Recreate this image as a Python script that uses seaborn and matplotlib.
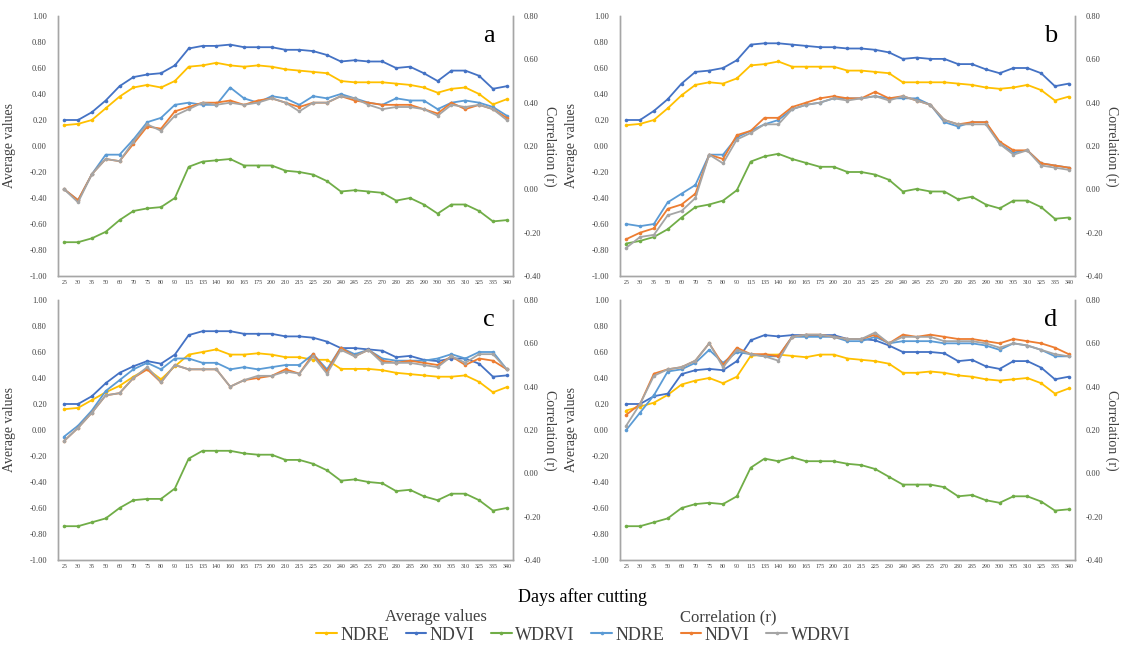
import matplotlib
matplotlib.use("Agg")
import matplotlib.pyplot as plt
import seaborn as sns
import pandas as pd
from matplotlib.lines import Line2D

# ---------------- data ----------------
days = [25, 30, 35, 50, 60, 70, 75, 80, 90, 115, 135, 140, 160, 165, 175, 200, 210,
        215, 225, 230, 240, 245, 255, 270, 280, 285, 290, 300, 305, 310, 325, 335, 340]

# Panel a  (average values: left axis; correlation r: right axis)
a_ndre_avg = [0.16, 0.17, 0.20, 0.29, 0.38, 0.45, 0.47, 0.45, 0.50, 0.61, 0.62, 0.64, 0.62, 0.61, 0.62, 0.61, 0.59,
              0.58, 0.57, 0.56, 0.50, 0.49, 0.49, 0.49, 0.48, 0.47, 0.45, 0.41, 0.44, 0.45, 0.40, 0.32, 0.36]
a_ndvi_avg = [0.20, 0.20, 0.26, 0.35, 0.46, 0.53, 0.55, 0.56, 0.62, 0.75, 0.77, 0.77, 0.78, 0.76, 0.76, 0.76, 0.74,
              0.74, 0.73, 0.70, 0.65, 0.66, 0.65, 0.65, 0.60, 0.61, 0.56, 0.50, 0.58, 0.58, 0.54, 0.44, 0.46]
a_wdrvi_avg = [-0.74, -0.74, -0.71, -0.66, -0.57, -0.50, -0.48, -0.47, -0.40, -0.16, -0.12, -0.11, -0.10, -0.15, -0.15, -0.15, -0.19,
               -0.20, -0.22, -0.27, -0.35, -0.34, -0.35, -0.36, -0.42, -0.40, -0.45, -0.52, -0.45, -0.45, -0.50, -0.58, -0.57]
a_ndre_r = [0.00, -0.05, 0.07, 0.16, 0.16, 0.23, 0.31, 0.33, 0.39, 0.40, 0.39, 0.39, 0.47, 0.42, 0.40, 0.43, 0.42,
            0.39, 0.43, 0.42, 0.44, 0.42, 0.40, 0.39, 0.42, 0.41, 0.41, 0.37, 0.40, 0.41, 0.40, 0.38, 0.34]
a_ndvi_r = [0.00, -0.05, 0.07, 0.14, 0.13, 0.21, 0.29, 0.28, 0.36, 0.38, 0.40, 0.40, 0.41, 0.39, 0.41, 0.42, 0.40,
            0.38, 0.40, 0.40, 0.43, 0.41, 0.40, 0.39, 0.39, 0.39, 0.37, 0.35, 0.40, 0.37, 0.39, 0.37, 0.33]
a_wdrvi_r = [0.00, -0.06, 0.07, 0.14, 0.13, 0.22, 0.30, 0.27, 0.34, 0.37, 0.40, 0.39, 0.40, 0.39, 0.40, 0.42, 0.40,
             0.36, 0.40, 0.40, 0.43, 0.42, 0.39, 0.37, 0.38, 0.38, 0.37, 0.34, 0.39, 0.38, 0.39, 0.37, 0.32]

# Panel b
b_ndre_avg = [0.16, 0.17, 0.20, 0.29, 0.39, 0.47, 0.49, 0.48, 0.52, 0.62, 0.63, 0.65, 0.61, 0.61, 0.61, 0.61, 0.58,
              0.58, 0.57, 0.56, 0.49, 0.49, 0.49, 0.49, 0.48, 0.47, 0.45, 0.44, 0.45, 0.47, 0.43, 0.35, 0.38]
b_ndvi_avg = [0.20, 0.20, 0.27, 0.36, 0.48, 0.57, 0.58, 0.60, 0.66, 0.78, 0.79, 0.79, 0.78, 0.77, 0.76, 0.76, 0.75,
              0.75, 0.74, 0.72, 0.67, 0.68, 0.67, 0.67, 0.63, 0.63, 0.59, 0.56, 0.60, 0.60, 0.56, 0.46, 0.48]
b_wdrvi_avg = [-0.75, -0.73, -0.70, -0.64, -0.55, -0.47, -0.45, -0.42, -0.34, -0.12, -0.08, -0.06, -0.10, -0.13, -0.16, -0.16, -0.20,
               -0.20, -0.22, -0.26, -0.35, -0.33, -0.35, -0.35, -0.41, -0.39, -0.45, -0.48, -0.42, -0.42, -0.47, -0.56, -0.55]
b_ndre_r = [-0.16, -0.17, -0.16, -0.06, -0.02, 0.02, 0.16, 0.16, 0.24, 0.27, 0.30, 0.32, 0.37, 0.39, 0.40, 0.42, 0.42,
            0.42, 0.43, 0.42, 0.42, 0.42, 0.39, 0.31, 0.29, 0.31, 0.31, 0.21, 0.17, 0.18, 0.12, 0.11, 0.10]
b_ndvi_r = [-0.23, -0.20, -0.18, -0.09, -0.07, -0.02, 0.16, 0.14, 0.25, 0.27, 0.33, 0.33, 0.38, 0.40, 0.42, 0.43, 0.42,
            0.42, 0.45, 0.42, 0.43, 0.41, 0.39, 0.32, 0.30, 0.31, 0.31, 0.22, 0.18, 0.18, 0.12, 0.11, 0.10]
b_wdrvi_r = [-0.27, -0.22, -0.21, -0.12, -0.10, -0.04, 0.16, 0.12, 0.23, 0.26, 0.30, 0.30, 0.37, 0.39, 0.40, 0.42, 0.41,
             0.42, 0.43, 0.41, 0.43, 0.41, 0.39, 0.32, 0.30, 0.30, 0.30, 0.21, 0.16, 0.18, 0.11, 0.10, 0.09]

# Panel c
c_ndre_avg = [0.16, 0.17, 0.23, 0.29, 0.34, 0.41, 0.47, 0.39, 0.49, 0.58, 0.60, 0.62, 0.58, 0.58, 0.59, 0.58, 0.56,
              0.56, 0.54, 0.54, 0.47, 0.47, 0.47, 0.46, 0.44, 0.43, 0.42, 0.41, 0.41, 0.42, 0.37, 0.29, 0.33]
c_ndvi_avg = [0.20, 0.20, 0.26, 0.36, 0.44, 0.49, 0.53, 0.51, 0.58, 0.73, 0.76, 0.76, 0.76, 0.74, 0.74, 0.74, 0.72,
              0.72, 0.71, 0.68, 0.63, 0.63, 0.62, 0.61, 0.56, 0.57, 0.54, 0.53, 0.55, 0.55, 0.51, 0.41, 0.42]
c_wdrvi_avg = [-0.74, -0.74, -0.71, -0.68, -0.60, -0.54, -0.53, -0.53, -0.45, -0.22, -0.16, -0.16, -0.16, -0.18, -0.19, -0.19, -0.23,
               -0.23, -0.26, -0.31, -0.39, -0.38, -0.40, -0.41, -0.47, -0.46, -0.51, -0.54, -0.49, -0.49, -0.54, -0.62, -0.60]
c_ndre_r = [0.17, 0.22, 0.29, 0.38, 0.43, 0.48, 0.51, 0.48, 0.53, 0.53, 0.51, 0.51, 0.48, 0.49, 0.48, 0.49, 0.50,
            0.50, 0.55, 0.48, 0.58, 0.55, 0.57, 0.53, 0.52, 0.52, 0.52, 0.53, 0.55, 0.53, 0.56, 0.56, 0.48]
c_ndvi_r = [0.15, 0.21, 0.28, 0.36, 0.37, 0.44, 0.48, 0.42, 0.50, 0.48, 0.48, 0.48, 0.40, 0.43, 0.44, 0.45, 0.48,
            0.46, 0.55, 0.47, 0.58, 0.54, 0.57, 0.52, 0.51, 0.52, 0.51, 0.50, 0.54, 0.50, 0.53, 0.52, 0.48]
c_wdrvi_r = [0.15, 0.21, 0.28, 0.36, 0.37, 0.44, 0.49, 0.42, 0.50, 0.48, 0.48, 0.48, 0.40, 0.43, 0.45, 0.45, 0.47,
             0.46, 0.54, 0.46, 0.57, 0.54, 0.57, 0.51, 0.51, 0.51, 0.50, 0.49, 0.54, 0.51, 0.55, 0.55, 0.48]

# Panel d
d_ndre_avg = [0.15, 0.18, 0.21, 0.27, 0.35, 0.38, 0.40, 0.36, 0.41, 0.57, 0.58, 0.58, 0.57, 0.56, 0.58, 0.58, 0.55,
              0.54, 0.53, 0.51, 0.44, 0.44, 0.45, 0.44, 0.42, 0.41, 0.39, 0.38, 0.39, 0.40, 0.36, 0.28, 0.32]
d_ndvi_avg = [0.20, 0.20, 0.26, 0.28, 0.43, 0.46, 0.47, 0.46, 0.53, 0.69, 0.73, 0.72, 0.73, 0.73, 0.73, 0.73, 0.70,
              0.70, 0.69, 0.65, 0.60, 0.60, 0.60, 0.59, 0.53, 0.54, 0.49, 0.47, 0.53, 0.53, 0.48, 0.39, 0.41]
d_wdrvi_avg = [-0.74, -0.74, -0.71, -0.68, -0.60, -0.57, -0.56, -0.57, -0.51, -0.29, -0.22, -0.24, -0.21, -0.24, -0.24, -0.24, -0.26,
               -0.27, -0.30, -0.36, -0.42, -0.42, -0.42, -0.44, -0.51, -0.50, -0.54, -0.56, -0.51, -0.51, -0.55, -0.62, -0.61]
d_ndre_r = [0.20, 0.28, 0.36, 0.47, 0.48, 0.51, 0.57, 0.51, 0.56, 0.55, 0.54, 0.54, 0.63, 0.63, 0.63, 0.63, 0.61,
            0.61, 0.63, 0.60, 0.61, 0.61, 0.61, 0.60, 0.60, 0.60, 0.59, 0.57, 0.60, 0.59, 0.57, 0.54, 0.54]
d_ndvi_r = [0.27, 0.32, 0.46, 0.48, 0.49, 0.52, 0.60, 0.50, 0.58, 0.55, 0.55, 0.54, 0.63, 0.64, 0.64, 0.63, 0.62,
            0.62, 0.64, 0.60, 0.64, 0.63, 0.64, 0.63, 0.62, 0.62, 0.61, 0.60, 0.62, 0.61, 0.60, 0.58, 0.55]
d_wdrvi_r = [0.22, 0.32, 0.45, 0.48, 0.49, 0.52, 0.60, 0.49, 0.57, 0.55, 0.54, 0.52, 0.63, 0.64, 0.64, 0.63, 0.62,
             0.62, 0.65, 0.60, 0.63, 0.63, 0.63, 0.61, 0.61, 0.61, 0.60, 0.58, 0.60, 0.59, 0.57, 0.55, 0.54]

panel_letters = ["a", "b", "c", "d"]
avg_ticks = [-1.0, -0.8, -0.6, -0.4, -0.2, 0.0, 0.2, 0.4, 0.6, 0.8, 1.0]
r_ticks = [-0.4, -0.2, 0.0, 0.2, 0.4, 0.6, 0.8]
series_names = ["NDRE", "NDVI", "WDRVI"]

# ---------------- style ----------------
sns.set_style("white")
plt.rcParams["font.family"] = ["Liberation Serif", "DejaVu Serif"]
plt.rcParams["axes.unicode_minus"] = False

avg_colors = ["#FFC000", "#4472C4", "#70AD47"]
r_colors = ["#5B9BD5", "#ED7D31", "#A5A5A5"]
spine_col = "#A6A6A6"
text_col = "#404040"

fig = plt.figure(figsize=(11.26, 6.46), dpi=100)
W, H = 1126.0, 646.0
boxes = [(58, 16, 513, 276), (620, 16, 1075, 276), (58, 300, 513, 560), (620, 300, 1075, 560)]

panels = [
    (a_ndre_avg, a_ndvi_avg, a_wdrvi_avg, a_ndre_r, a_ndvi_r, a_wdrvi_r),
    (b_ndre_avg, b_ndvi_avg, b_wdrvi_avg, b_ndre_r, b_ndvi_r, b_wdrvi_r),
    (c_ndre_avg, c_ndvi_avg, c_wdrvi_avg, c_ndre_r, c_ndvi_r, c_wdrvi_r),
    (d_ndre_avg, d_ndvi_avg, d_wdrvi_avg, d_ndre_r, d_ndvi_r, d_wdrvi_r),
]

pos = list(range(len(days)))
for (x0, y0, x1, y1), letter, data in zip(boxes, panel_letters, panels):
    ax = fig.add_axes([x0 / W, 1 - y1 / H, (x1 - x0) / W, (y1 - y0) / H])
    ax2 = ax.twinx()
    for vals, col in zip(data[:3], avg_colors):
        df = pd.DataFrame({"pos": pos, "v": vals})
        sns.lineplot(data=df, x="pos", y="v", ax=ax, color=col, linewidth=1.3,
                     marker="o", markersize=2.6, markeredgewidth=0)
    for vals, col in zip(data[3:], r_colors):
        df = pd.DataFrame({"pos": pos, "v": vals})
        sns.lineplot(data=df, x="pos", y="v", ax=ax2, color=col, linewidth=1.3,
                     marker="o", markersize=2.6, markeredgewidth=0)
    ax.set_xlim(-0.45, len(days) - 1 + 0.45)
    ax.set_ylim(-1.0, 1.0)
    ax2.set_ylim(-0.4, 0.8)
    ax.set_yticks(avg_ticks)
    ax.set_yticklabels([f"{t:.2f}" for t in avg_ticks])
    ax2.set_yticks(r_ticks)
    ax2.set_yticklabels([f"{t:.2f}" for t in r_ticks])
    ax.set_xticks(pos)
    ax.set_xticklabels([str(d) for d in days])
    ax.tick_params(axis="x", length=0, labelsize=4.3, pad=3, colors=text_col)
    ax.tick_params(axis="y", length=0, labelsize=6, pad=8, colors=text_col)
    ax2.tick_params(axis="y", length=0, labelsize=6, pad=8, colors=text_col)
    ax.set_xlabel("")
    ax.set_ylabel("Average values", fontsize=10, color=text_col)
    ax2.set_ylabel("Correlation (r)", fontsize=10, color=text_col, rotation=270)
    ax.yaxis.set_label_coords(-0.092, 0.5)
    ax2.yaxis.set_label_coords(1.095, 0.5)
    for a_ in (ax, ax2):
        a_.grid(False)
        a_.spines["top"].set_visible(False)
        for s in ("left", "right", "bottom"):
            a_.spines[s].set_color(spine_col)
            a_.spines[s].set_linewidth(1.0)
    ax.text(0.947, 0.925, letter, transform=ax.transAxes, fontsize=19,
            ha="center", va="center", color="black")

fig.text(583 / W, 1 - 597 / H, "Days after cutting", ha="center", va="center",
         fontsize=13, color="black")
fig.text(436 / W, 1 - 617 / H, "Average values", ha="center", va="center",
         fontsize=12, color=text_col)
fig.text(728 / W, 1 - 617 / H, "Correlation (r)", ha="center", va="center",
         fontsize=12, color=text_col)

handles = [Line2D([], [], color=c, linewidth=1.5, marker="o", markersize=2.6, markeredgewidth=0)
           for c in avg_colors + r_colors]
labels = series_names + series_names
fig.legend(handles, labels, loc="center", bbox_to_anchor=(583 / W, 1 - 635 / H), ncol=6,
           frameon=False, fontsize=13, handlelength=1.15, handletextpad=0.2,
           columnspacing=0.9, labelcolor=text_col)

fig.savefig("out.png", dpi=100)
